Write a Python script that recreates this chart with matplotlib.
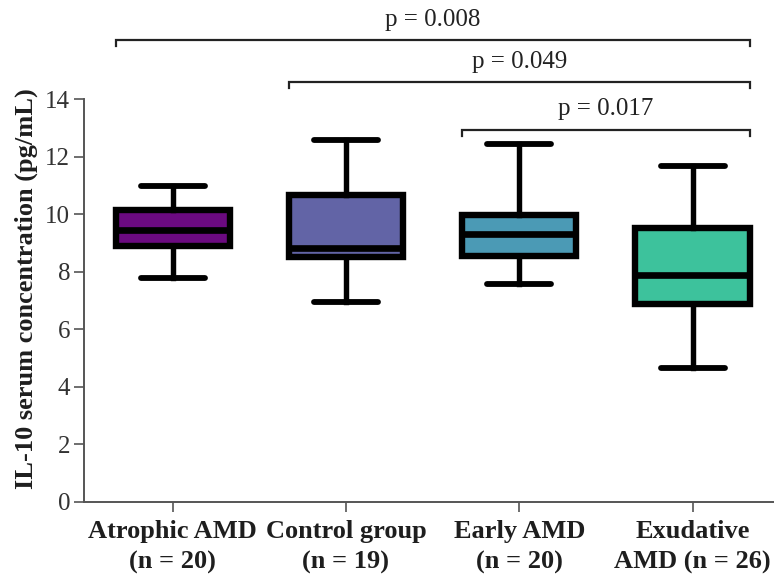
import matplotlib
matplotlib.use("Agg")
import matplotlib.pyplot as plt

plt.rcParams['font.family'] = ['Liberation Serif', 'DejaVu Serif']

# Group labels and summary statistics (pg/mL)
groups = ["Atrophic AMD\n(n = 20)", "Control group\n(n = 19)",
          "Early AMD\n(n = 20)", "Exudative\nAMD (n = 26)"]
whisker_low = [7.78, 6.95, 7.57, 4.64]
q1 = [8.88, 8.50, 8.55, 6.88]
median = [9.45, 8.84, 9.31, 7.89]
q3 = [10.16, 10.66, 9.97, 9.52]
whisker_high = [10.98, 12.58, 12.43, 11.66]
colors = ["#6b0a80", "#6264a6", "#4b9ab5", "#3dc29c"]

# Pairwise comparisons: (left group, right group, p-value label, bracket height)
comparisons = [
    (0, 3, "p = 0.008", 16.05),
    (1, 3, "p = 0.049", 14.59),
    (2, 3, "p = 0.017", 12.93),
]

W, H = 774, 575
fig = plt.figure(figsize=(W / 100, H / 100), dpi=100)
ax = fig.add_axes([84 / W, 1 - 502 / H, (W - 84) / W, (502 - 99) / H])

stats = []
for i in range(len(groups)):
    stats.append(dict(whislo=whisker_low[i], q1=q1[i], med=median[i],
                      q3=q3[i], whishi=whisker_high[i], fliers=[]))

box_w = 0.66
positions = list(range(len(groups)))
bp = ax.bxp(stats, positions=positions, widths=box_w, capwidths=0.37,
            patch_artist=True, showfliers=False,
            boxprops=dict(linewidth=4.6, edgecolor="black"),
            medianprops=dict(linewidth=4.8, color="black", solid_capstyle="butt"),
            whiskerprops=dict(linewidth=3.9, color="black"),
            capprops=dict(linewidth=4.2, color="black", solid_capstyle="round"))
for patch, c in zip(bp["boxes"], colors):
    patch.set_facecolor(c)
    patch.set_joinstyle("miter")

ax.set_xlim(-0.512, 3.47)
ax.set_ylim(0, 14)
ax.set_yticks(range(0, 15, 2))
ax.set_xticks(positions)
ax.set_xticklabels(groups, fontsize=19, fontweight="bold", color="#1e1e1e",
                   linespacing=1.4)
ax.tick_params(axis="y", labelsize=18, labelcolor="#333333", length=7,
               width=1.2, color="#555555", pad=3)
ax.tick_params(axis="x", length=7, width=1.2, color="#555555", pad=6)

for side in ("top", "right"):
    ax.spines[side].set_visible(False)
for side in ("left", "bottom"):
    ax.spines[side].set_color("#555555")
    ax.spines[side].set_linewidth(1.4)

ax.set_ylabel("IL-10 serum concentration (pg/mL)", fontsize=19,
              fontweight="bold", color="#1e1e1e")
ax.yaxis.set_label_coords(-0.067, 0.53)

# Significance brackets above the boxes
leg = 0.22
for a, b, label, y in comparisons:
    x0 = positions[a] - box_w / 2
    x1 = positions[b] + box_w / 2
    ax.plot([x0, x0, x1, x1], [y - leg, y, y, y - leg], color="#222222",
            linewidth=1.6, clip_on=False, solid_joinstyle="miter")
    ax.text((x0 + x1) / 2, y + 0.5, label, ha="center", va="baseline",
            fontsize=18, color="#222222", clip_on=False)

fig.savefig("out.png", dpi=100)
